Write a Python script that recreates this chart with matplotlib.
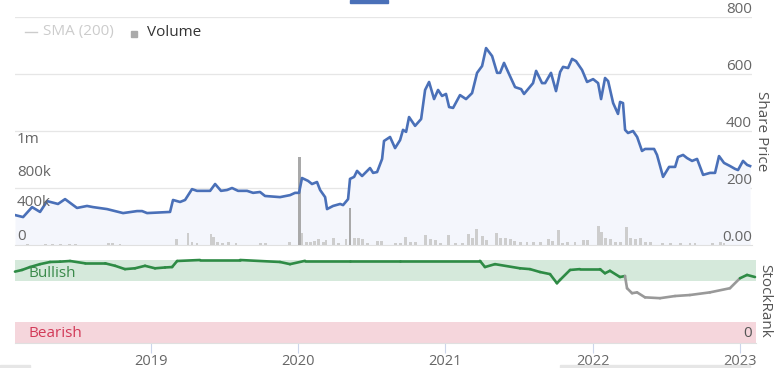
import numpy as np
import matplotlib
matplotlib.use("Agg")
import matplotlib.pyplot as plt
from matplotlib.collections import LineCollection
from matplotlib.lines import Line2D
from matplotlib.patches import Rectangle
from matplotlib.transforms import blended_transform_factory

plt.rcParams["font.family"] = ["Open Sans", "DejaVu Sans"]

# share price (decimal year, price)
price_t = [2018.076, 2018.131, 2018.192, 2018.246, 2018.294, 2018.368, 2018.416, 2018.497,
           2018.565, 2018.606, 2018.701, 2018.810, 2018.905, 2018.939, 2018.973, 2019.050,
           2019.129, 2019.149, 2019.197, 2019.231, 2019.278, 2019.312, 2019.401, 2019.435,
           2019.475, 2019.516, 2019.550, 2019.591, 2019.652, 2019.693, 2019.740, 2019.774,
           2019.876, 2019.944, 2019.978, 2020.005, 2020.025, 2020.066, 2020.093, 2020.127,
           2020.148, 2020.182, 2020.195, 2020.236, 2020.284, 2020.304, 2020.338, 2020.351,
           2020.379, 2020.399, 2020.433, 2020.487, 2020.508, 2020.535, 2020.569, 2020.582,
           2020.623, 2020.657, 2020.691, 2020.711, 2020.732, 2020.752, 2020.793, 2020.834,
           2020.861, 2020.888, 2020.922, 2020.949, 2020.976, 2021.003, 2021.024, 2021.051,
           2021.098, 2021.139, 2021.180, 2021.214, 2021.248, 2021.275, 2021.316, 2021.350,
           2021.370, 2021.397, 2021.431, 2021.472, 2021.513, 2021.533, 2021.594, 2021.615,
           2021.655, 2021.676, 2021.716, 2021.750, 2021.778, 2021.798, 2021.832, 2021.859,
           2021.886, 2021.927, 2021.961, 2022.002, 2022.036, 2022.056, 2022.083, 2022.104,
           2022.138, 2022.171, 2022.185, 2022.205, 2022.219, 2022.239, 2022.273, 2022.301,
           2022.334, 2022.355, 2022.416, 2022.436, 2022.477, 2022.518, 2022.559, 2022.579,
           2022.613, 2022.640, 2022.674, 2022.708, 2022.749, 2022.796, 2022.830, 2022.857,
           2022.891, 2022.932, 2022.966, 2022.986, 2023.020, 2023.048, 2023.068]
price = [105, 98, 133, 116, 154, 144, 161, 130,
         137, 133, 126, 112, 119, 119, 112, 114,
         116, 158, 151, 158, 196, 190, 190, 214,
         190, 193, 200, 190, 190, 183, 186, 172,
         168, 175, 183, 183, 235, 225, 214, 221,
         193, 168, 126, 137, 144, 140, 161, 232,
         239, 260, 242, 270, 253, 256, 302, 365,
         379, 340, 368, 404, 397, 449, 418, 442,
         544, 572, 512, 544, 523, 530, 484, 481,
         526, 512, 533, 604, 628, 691, 663, 604,
         604, 639, 600, 554, 547, 530, 568, 611,
         568, 568, 604, 540, 607, 625, 621, 653,
         645, 614, 572, 582, 568, 512, 586, 575,
         498, 460, 502, 498, 404, 393, 400, 379,
         330, 337, 337, 316, 239, 274, 274, 309,
         316, 305, 295, 302, 246, 253, 253, 312,
         288, 277, 267, 263, 295, 281, 277]

# volume (decimal year, shares)
vol_t = [2018.158, 2018.280, 2018.328, 2018.382, 2018.443, 2018.484, 2018.708, 2018.735,
         2018.789, 2019.170, 2019.251, 2019.278, 2019.312, 2019.407, 2019.421, 2019.448,
         2019.482, 2019.523, 2019.577, 2019.740, 2019.774, 2019.937, 2020.005, 2020.025,
         2020.053, 2020.080, 2020.107, 2020.134, 2020.168, 2020.188, 2020.236, 2020.270,
         2020.324, 2020.351, 2020.379, 2020.406, 2020.433, 2020.467, 2020.535, 2020.562,
         2020.657, 2020.691, 2020.725, 2020.759, 2020.793, 2020.861, 2020.895, 2020.929,
         2020.963, 2021.017, 2021.065, 2021.112, 2021.153, 2021.180, 2021.207, 2021.248,
         2021.275, 2021.343, 2021.370, 2021.404, 2021.438, 2021.465, 2021.506, 2021.553,
         2021.594, 2021.642, 2021.696, 2021.723, 2021.764, 2021.791, 2021.825, 2021.879,
         2021.934, 2021.961, 2022.036, 2022.056, 2022.083, 2022.117, 2022.151, 2022.185,
         2022.226, 2022.253, 2022.287, 2022.321, 2022.355, 2022.389, 2022.470, 2022.525,
         2022.593, 2022.660, 2022.694, 2022.810, 2022.864, 2022.891]
volume = [13e3, 13e3, 13e3, 13e3, 13e3, 13e3, 18e3, 18e3,
          13e3, 53e3, 105e3, 26e3, 18e3, 96e3, 70e3, 26e3,
          18e3, 26e3, 18e3, 18e3, 18e3, 26e3, 772e3, 105e3,
          26e3, 26e3, 35e3, 53e3, 26e3, 44e3, 61e3, 18e3,
          53e3, 325e3, 61e3, 61e3, 53e3, 18e3, 35e3, 35e3,
          18e3, 18e3, 70e3, 26e3, 26e3, 88e3, 53e3, 44e3,
          18e3, 88e3, 18e3, 18e3, 96e3, 61e3, 140e3, 79e3,
          44e3, 105e3, 61e3, 61e3, 53e3, 35e3, 26e3, 26e3,
          26e3, 26e3, 53e3, 35e3, 132e3, 18e3, 26e3, 26e3,
          44e3, 44e3, 167e3, 114e3, 61e3, 53e3, 26e3, 26e3,
          158e3, 61e3, 53e3, 61e3, 26e3, 26e3, 18e3, 18e3,
          18e3, 18e3, 18e3, 18e3, 26e3, 18e3]

# StockRank (decimal year, rank)
rank_t = [2018.076, 2018.124, 2018.178, 2018.246, 2018.314, 2018.382, 2018.450, 2018.552,
          2018.688, 2018.756, 2018.823, 2018.891, 2018.959, 2019.027, 2019.095, 2019.143,
          2019.177, 2019.333, 2019.604, 2019.876, 2019.944, 2020.046, 2020.351, 2020.691,
          2021.234, 2021.268, 2021.336, 2021.506, 2021.574, 2021.642, 2021.710, 2021.757,
          2021.778, 2021.846, 2021.913, 2022.049, 2022.083, 2022.117, 2022.185, 2022.219,
          2022.233, 2022.267, 2022.301, 2022.355, 2022.457, 2022.559, 2022.660, 2022.796,
          2022.932, 2023.000, 2023.048, 2023.102]
rank = [86, 88, 91.5, 95, 97.6, 98, 98.8, 96,
        96, 93, 89, 90, 93, 90, 91, 91.5,
        98.8, 100, 100, 97.6, 95, 99, 99, 99,
        99, 91.5, 95, 90, 89, 85.5, 83, 72,
        76, 88, 89, 89, 84, 87, 79.5, 80.7,
        66, 60, 61, 55, 54, 56.6, 57.8, 61,
        66, 78, 82, 79.5]

years = [2019, 2020, 2021, 2022, 2023]
price_ticks = [0, 200, 400, 600, 800]
price_labels = ["0.00", "200", "400", "600", "800"]
vol_labels = ["1m", "800k", "400k", "0"]

W, H = 779, 368
fig = plt.figure(figsize=(W / 100, H / 100), dpi=100)

# ---- main price / volume panel (three stacked layers: fill, bars, line)
ax = fig.add_axes([15 / W, 1 - 245 / H, 737 / W, 228 / H])
ax.set_xlim(2018.076, 2023.081)
ax.set_ylim(0, 800)
for s in ["top", "left", "right"]:
    ax.spines[s].set_visible(False)
ax.spines["bottom"].set_color("#e0e0e0")
ax.set_xticks([])
ax.set_yticks([])
for v in price_ticks[1:]:
    ax.axhline(v, color="#e6e6e6", lw=0.9, zorder=0)
ax.fill_between(price_t, price, 0, color="#f4f6fc", zorder=1, lw=0)

tr = blended_transform_factory(ax.transAxes, ax.transData)
for v, lab in zip(price_ticks, price_labels):
    ax.text(1.0, v, lab, transform=tr, ha="right", va="bottom",
            fontsize=11, color="#666666", zorder=5)

vax = ax.twinx()
vax.set_ylim(0, 2.0e6)
vax.set_xlim(ax.get_xlim())
vax.axis("off")
vcols = ["#a9a9a9" if v > 300e3 else "#cdcdcd" for v in volume]
vax.bar(vol_t, volume, width=0.02, color=vcols, zorder=2)

lax = ax.twinx()
lax.set_ylim(ax.get_ylim())
lax.set_xlim(ax.get_xlim())
lax.axis("off")
lax.plot(price_t, price, color="#4a70b8", lw=1.9, solid_joinstyle="round")

ax.set_zorder(1)
vax.set_zorder(2)
lax.set_zorder(3)

for lab, yc in zip(vol_labels, [139, 172, 203, 236]):
    fig.text(17 / W, 1 - yc / H, lab, ha="left", va="center",
             fontsize=11, color="#666666")

fig.text(762 / W, 1 - 131 / H, "Share Price", rotation=-90, ha="center",
         va="center", fontsize=11, color="#555555")

# legend
fig.lines.append(Line2D([25 / W, 37 / W], [1 - 32 / H, 1 - 32 / H],
                        transform=fig.transFigure, color="#cccccc", lw=1))
fig.text(43 / W, 1 - 32 / H, "SMA (200)", ha="left", va="center",
         fontsize=11, color="#cccccc")
fig.patches.append(Rectangle((131 / W, 1 - 37 / H), 6 / W, 6 / H,
                             transform=fig.transFigure, color="#aaaaaa"))
fig.text(147 / W, 1 - 32 / H, "Volume", ha="left", va="center",
         fontsize=11, color="#333333")

fig.patches.append(Rectangle((350 / W, 1 - 3 / H), 38 / W, 3 / H,
                             transform=fig.transFigure, color="#4a70b8"))

# ---- StockRank panel
rx = fig.add_axes([15 / W, 1 - 343 / H, 741 / W, 83 / H])
rx.set_xlim(2018.076, 2023.109)
rx.set_ylim(0, 100)
for s in ["top", "left", "right"]:
    rx.spines[s].set_visible(False)
rx.spines["bottom"].set_color("#e0e0e0")
rx.axhspan(75, 100, color="#d5e9db", lw=0, zorder=0)
rx.axhspan(0, 25, color="#f5d6dc", lw=0, zorder=0)

pts = np.column_stack([rank_t, rank])
segs = np.stack([pts[:-1], pts[1:]], axis=1)
mids = (np.array(rank[:-1]) + np.array(rank[1:])) / 2
seg_cols = ["#2e8b45" if m >= 73.5 else "#999999" for m in mids]
lc = LineCollection(segs, colors=seg_cols, linewidths=1.9, zorder=3, clip_on=False,
                    capstyle="round")
rx.add_collection(lc)

rtr = blended_transform_factory(rx.transAxes, rx.transData)
rx.text(13 / 741, 84, "Bullish", transform=rtr, ha="left", va="center",
        fontsize=11, color="#3a8a4a", zorder=4)
rx.text(13 / 741, 12, "Bearish", transform=rtr, ha="left", va="center",
        fontsize=11, color="#d23a58", zorder=4)
rx.text(737 / 741, 12, "0", transform=rtr, ha="right", va="center",
        fontsize=11, color="#555555", zorder=4)

rx.set_yticks([])
rx.set_xticks(years)
rx.set_xticklabels([str(y) for y in years])
rx.tick_params(axis="x", length=7, color="#ccd6eb", labelsize=10.5,
               labelcolor="#666666", pad=1)

fig.text(765 / W, 1 - 301 / H, "StockRank", rotation=-90, ha="center",
         va="center", fontsize=11, color="#555555")

# scrollbar remnants at the bottom edge
fig.patches.append(Rectangle((0, 0), 30 / W, 3 / H, transform=fig.transFigure,
                             color="#e6e6e6"))
fig.patches.append(Rectangle((560 / W, 0), 190 / W, 3 / H, transform=fig.transFigure,
                             color="#e6e6e6"))

fig.savefig("out.png", dpi=100)
